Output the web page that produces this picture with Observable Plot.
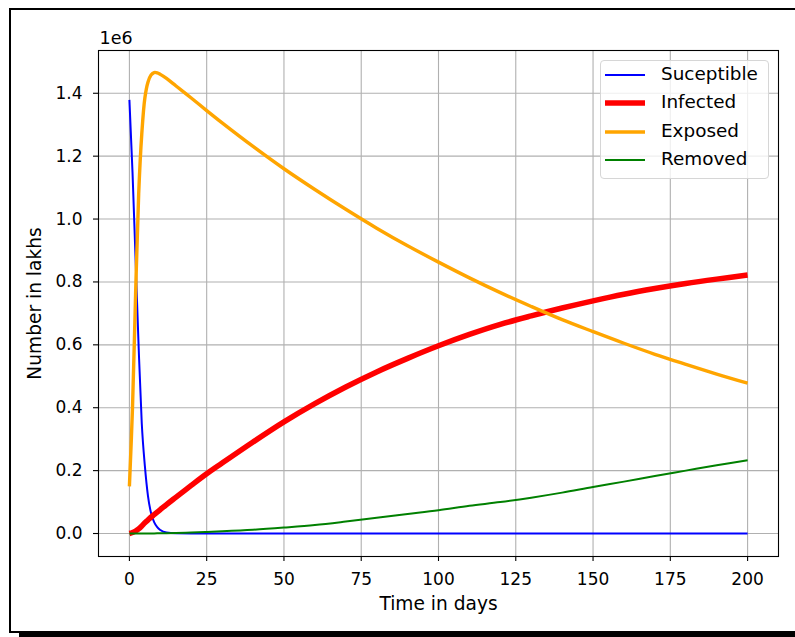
<!DOCTYPE html>
<html>
<head>
<meta charset="utf-8">
<script src="https://cdn.jsdelivr.net/npm/d3@7"></script>
<script src="https://cdn.jsdelivr.net/npm/@observablehq/plot@0.6"></script>
<style>
  html, body { margin: 0; padding: 0; background: #fff; }
  body { width: 795px; height: 637px; overflow: hidden; position: relative; font-family: "DejaVu Sans", sans-serif; }
  #box { position: absolute; left: 9px; top: 8px; width: 820px; height: 621px; border: 2px solid #000; box-shadow: 10px 6px 0 #000; background: #fff; }
  #chart { position: absolute; left: 0; top: 0; }
  #legend { position: absolute; left: 600px; top: 60px; width: 167px; height: 117px; border: 1px solid #d6d6d6; border-radius: 4px; background: rgba(255,255,255,0.8); }
  .row { position: absolute; left: 0; height: 20px; width: 167px; }
  .row svg { position: absolute; left: 4px; top: 0; }
  .row span { position: absolute; left: 60px; top: -1px; font-size: 18.4px; color: #000; line-height: 20px; white-space: nowrap; }
</style>
</head>
<body>
<div id="box"></div>
<div id="chart"></div>
<div id="legend"></div>
<script>
// Time points (days)
const days = [0,1,2,3,4,5,6,7,8,9,10,12,15,20,25,30,40,50,60,70,80,90,100,110,120,130,140,150,160,170,180,190,200];
// Values in units of 1e6
const susceptible = [1.379,1.15,0.87,0.59,0.35,0.215,0.12,0.065,0.036,0.02,0.011,0.003,0.0005,0,0,0,0,0,0,0,0,0,0,0,0,0,0,0,0,0,0,0,0];
const infected = [0,0.003,0.008,0.015,0.024,0.034,0.043,0.052,0.06,0.068,0.076,0.092,0.115,0.153,0.19,0.224,0.291,0.355,0.413,0.466,0.514,0.557,0.597,0.633,0.665,0.692,0.717,0.74,0.761,0.779,0.795,0.809,0.822];
const exposed = [0.15,0.40,0.76,1.08,1.27,1.385,1.435,1.458,1.466,1.465,1.46,1.447,1.424,1.385,1.345,1.306,1.231,1.16,1.094,1.031,0.971,0.915,0.863,0.813,0.766,0.722,0.68,0.642,0.605,0.57,0.538,0.507,0.478];
const removed = [0,0,0,0,0,0.0001,0.0002,0.0003,0.0004,0.0005,0.0007,0.001,0.0015,0.003,0.005,0.007,0.012,0.019,0.027,0.038,0.05,0.062,0.074,0.088,0.1,0.114,0.13,0.148,0.165,0.183,0.2,0.217,0.233];

const seriesNames = ["Suceptible", "Infected", "Exposed", "Removed"];
const seriesValues = [susceptible, infected, exposed, removed];
const seriesColors = ["#0000ff", "#ff0000", "#ffa500", "#008000"];
const seriesWidths = [2, 5.5, 3.4, 2];
const seriesCurves = ["monotone-x", "catmull-rom", "catmull-rom", "catmull-rom"];

const xTicks = [0,25,50,75,100,125,150,175,200];
const yTicks = [0,0.2,0.4,0.6,0.8,1.0,1.2,1.4];

const lines = seriesValues.map((vals, k) =>
  Plot.line(vals, {
    x: (d, i) => days[i],
    y: d => d,
    stroke: seriesColors[k],
    strokeWidth: seriesWidths[k],
    curve: seriesCurves[k],
    strokeLinejoin: "round",
    strokeLinecap: "butt"
  })
);

const chart = Plot.plot({
  width: 795,
  height: 637,
  marginLeft: 98,
  marginRight: 17,
  marginTop: 50,
  marginBottom: 81,
  style: { fontFamily: "DejaVu Sans", fontSize: "17px", color: "#000", background: "transparent", overflow: "visible" },
  x: { domain: [-10, 210] },
  y: { domain: [-0.0731, 1.536] },
  marks: [
    Plot.gridX(xTicks, { stroke: "#b0b0b0", strokeOpacity: 1, strokeWidth: 1.1 }),
    Plot.gridY(yTicks, { stroke: "#b0b0b0", strokeOpacity: 1, strokeWidth: 1.1 }),
    ...lines,
    Plot.frame({ stroke: "#000", strokeWidth: 1.1 }),
    Plot.axisX(xTicks, { tickSize: 5, tickPadding: 11, label: null, strokeWidth: 1.1 }),
    Plot.axisY(yTicks, { tickSize: 5, tickPadding: 11, label: null, strokeWidth: 1.1, tickFormat: d => d.toFixed(1) }),
    Plot.text(["Time in days"], { frameAnchor: "bottom", textAnchor: "middle", dy: 48, lineAnchor: "middle", fontSize: 18.6 }),
    Plot.text(["Number in lakhs"], { frameAnchor: "left", textAnchor: "middle", dx: -63, rotate: -90, lineAnchor: "middle", fontSize: 18.6 }),
    Plot.text(["1e6"], { frameAnchor: "top-left", textAnchor: "start", lineAnchor: "bottom", dx: 1, dy: -7, fontSize: 17.5 })
  ]
});
document.getElementById("chart").appendChild(chart);

// Legend
const legend = document.getElementById("legend");
const rowYs = [14, 42, 70.5, 99];
seriesNames.forEach((name, k) => {
  const row = document.createElement("div");
  row.className = "row";
  row.style.top = (rowYs[k] - 10) + "px";
  row.innerHTML = `<svg width="44" height="20"><line x1="0" x2="40" y1="10" y2="10" stroke="${seriesColors[k]}" stroke-width="${seriesWidths[k]}"/></svg><span>${name}</span>`;
  legend.appendChild(row);
});
</script>
</body>
</html>
